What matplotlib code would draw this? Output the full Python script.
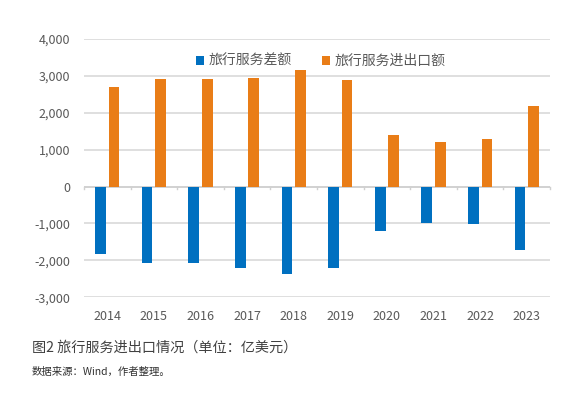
import numpy as np
from matplotlib import pyplot as plt

plt.rcParams['font.family'] = ['Noto Sans CJK SC', 'DejaVu Sans']

years = ['2014', '2015', '2016', '2017', '2018', '2019', '2020', '2021', '2022', '2023']
chae = [-1834, -2060, -2060, -2196, -2379, -2196, -1215, -990, -1008, -1716]   # 旅行服务差额
jinchukou = [2703, 2927, 2927, 2954, 3170, 2900, 1386, 1197, 1278, 2197]     # 旅行服务进出口额
yticks = [-3000, -2000, -1000, 0, 1000, 2000, 3000, 4000]

azul = '#0070c0'
naranja = '#e97d17'
gris = '#595959'

fig = plt.figure(figsize=(5.84, 3.93), dpi=100)
ax = fig.add_axes([0.1438, 0.2435, 0.798, 0.6573])

x = np.arange(len(years))
ancho = 0.23
ax.bar(x - 0.145, chae, ancho, color=azul, label='旅行服务差额', zorder=3)
ax.bar(x + 0.145, jinchukou, ancho, color=naranja, label='旅行服务进出口额', zorder=3)

ax.set_xlim(-0.5, len(years) - 0.5)
ax.set_ylim(-3000, 4000)
ax.set_yticks(yticks)
ax.set_yticklabels(['{:,}'.format(v) for v in yticks], color=gris, fontsize=9)
ax.yaxis.grid(True, color='#d9d9d9', linewidth=1.2, zorder=0)
ax.tick_params(axis='y', length=0, pad=10)

# eje x: etiquetas abajo, marcas sobre la linea del cero
ax.set_xticks(x)
ax.set_xticklabels(years, color=gris, fontsize=9)
ax.tick_params(axis='x', length=0, pad=9)
ax.axhline(0, color='#d0d0d0', linewidth=1.2, zorder=2)
for b in np.arange(-0.5, len(years), 1.0):
    ax.plot([b, b], [0, -70], color='#d0d0d0', linewidth=1, zorder=2, clip_on=False)

for s in ax.spines.values():
    s.set_visible(False)

leg = ax.legend(loc='upper center', bbox_to_anchor=(0.508, 0.99), ncol=2, frameon=False,
                fontsize=10, handlelength=0.6, handleheight=0.6, handletextpad=0.3,
                columnspacing=2.2)
for t in leg.get_texts():
    t.set_color(gris)

fig.text(32 / 584, 1 - 348 / 393, '图2 旅行服务进出口情况（单位：亿美元）', fontsize=10.2,
         color='#404040', va='center')
fig.text(32 / 584, 1 - 372 / 393, '数据来源：Wind，作者整理。', fontsize=7.5,
         color='#303030', va='center')

fig.savefig('out.png', dpi=100)
